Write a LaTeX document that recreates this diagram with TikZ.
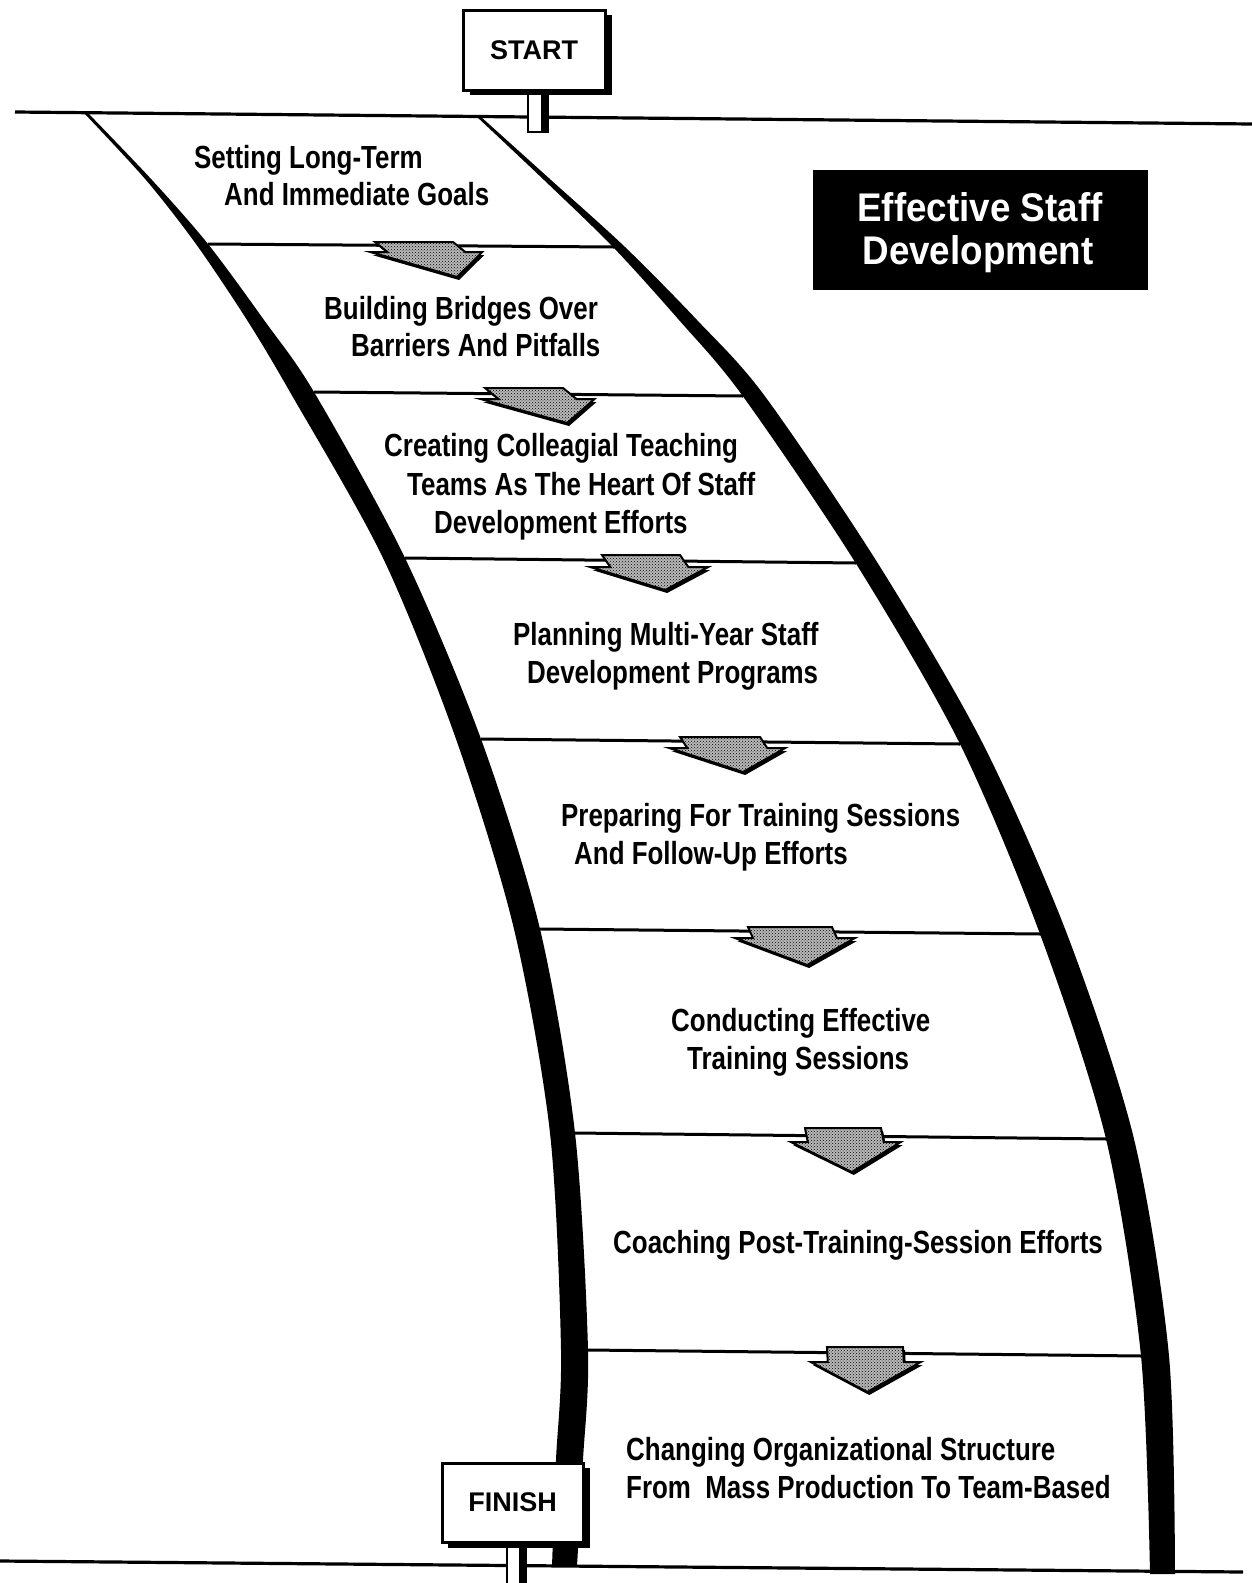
\documentclass[tikz,border=0pt]{standalone}
\usepackage{fontspec}
\setmainfont{Liberation Sans}
\newfontfamily\labfont{Liberation Sans}[FakeStretch=0.81]
\newfontfamily\titfont{Liberation Sans}[FakeStretch=0.92]
\usetikzlibrary{patterns}
% #1 cx, #2 top y, #3 shaft half width, #4 wing half width, #5 shaft height, #6 total height, #7 skew
\newcommand\stagearrow[7]{%
  \fill[black, shift={(2,3)}] ({#1-#3},#2) -- ({#1+#3},#2) -- ({#1+#3+#7*#5},{#2+#5}) -- ({#1+#4+#7*#5},{#2+#5}) -- ({#1+#7*#6},{#2+#6}) -- ({#1-#4+#7*#5},{#2+#5}) -- ({#1-#3+#7*#5},{#2+#5}) -- cycle;
  \draw[arrowbody] ({#1-#3},#2) -- ({#1+#3},#2) -- ({#1+#3+#7*#5},{#2+#5}) -- ({#1+#4+#7*#5},{#2+#5}) -- ({#1+#7*#6},{#2+#6}) -- ({#1-#4+#7*#5},{#2+#5}) -- ({#1-#3+#7*#5},{#2+#5}) -- cycle;
}
\begin{document}
\begin{tikzpicture}[x=1pt,y=-1pt,
  steplabel/.style={anchor=base west, inner sep=0pt, font=\labfont\bfseries\fontsize{32}{38}\selectfont},
  titletext/.style={anchor=base, inner sep=0pt, text=white, font=\titfont\bfseries\fontsize{40}{43}\selectfont},
  signbox/.style={draw, line width=3pt, fill=white, inner sep=0pt, font=\bfseries\fontsize{27}{30}\selectfont},
  crossline/.style={line width=3pt},
  edgeline/.style={line width=3.2pt},
  arrowbody/.style={line width=2pt, line join=miter, fill=gray!55, postaction={pattern=crosshatch dots}},
  postbody/.style={draw, line width=2.5pt, fill=white}
]
\useasboundingbox (0,0) rectangle (1252,1583);
\fill[white] (0,0) rectangle (1252,1583);

% horizon and ground lines
\coordinate (topL) at (15,112);
\coordinate (topR) at (1252,124);
\coordinate (botL) at (0,1561);
\coordinate (botR) at (1243,1572);
\draw[edgeline] (topL) -- (topR);
\draw[edgeline] (botL) -- (botR);

% left edge of the road
\fill plot[smooth] coordinates {(84,113) (146,180) (196,244) (247,320) (290,392) (383,558) (456,739) (514,929) (550,1133) (561,1350) (556,1460) (552,1566)}
  -- plot[smooth] coordinates {(577,1566) (583,1460) (588,1350) (575,1133) (540,929) (481,739) (405,558) (314,392) (264,320) (208,244) (152,180) (88,113)} -- cycle;
% right edge of the road
\fill plot[smooth] coordinates {(476,116) (544,180) (613,247) (679,320) (742,395) (855,562) (959,742) (1040,934) (1106,1139) (1141,1356) (1150,1574)}
  -- plot[smooth] coordinates {(1175,1574) (1169,1356) (1134,1139) (1067,934) (982,742) (877,562) (764,395) (697,320) (625,247) (551,180) (480,116)} -- cycle;

% cross lines
\coordinate (l1a) at (208,244);  \coordinate (l1b) at (614,247);
\coordinate (l2a) at (314,392);  \coordinate (l2b) at (743,396);
\coordinate (l3a) at (405,558);  \coordinate (l3b) at (856,563);
\coordinate (l4a) at (481,739);  \coordinate (l4b) at (960,744);
\coordinate (l5a) at (540,929);  \coordinate (l5b) at (1041,934);
\coordinate (l6a) at (575,1133); \coordinate (l6b) at (1107,1139);
\coordinate (l7a) at (588,1350); \coordinate (l7b) at (1142,1356);
\foreach \i in {1,...,7} \draw[crossline] (l\i a) -- (l\i b);

% arrows
\stagearrow{414}{242}{39}{56}{10}{35}{1.23}
\stagearrow{524}{388}{39}{57}{11}{35}{1.23}
\stagearrow{641}{555}{39}{59}{12}{35}{0.69}
\stagearrow{720}{737}{40}{58}{11}{35}{0.66}
\stagearrow{790}{927}{42}{60}{11}{38}{0.45}
\stagearrow{843}{1128}{38}{55}{14}{44}{0.2}
\stagearrow{865}{1347}{38}{55}{15}{45}{0.05}

% step texts
\node[steplabel] (s1a) at (194,168) {Setting Long-Term};
\node[steplabel] (s1b) at (224,205.5) {And Immediate Goals};
\node[steplabel] (s2a) at (324,319.5) {Building Bridges Over};
\node[steplabel] (s2b) at (351,356.5) {Barriers And Pitfalls};
\node[steplabel] (s3a) at (384,456.5) {Creating Colleagial Teaching};
\node[steplabel] (s3b) at (407,495.5) {Teams As The Heart Of Staff};
\node[steplabel] (s3c) at (434,533.5) {Development Efforts};
\node[steplabel] (s4a) at (513,645.5) {Planning Multi-Year Staff};
\node[steplabel] (s4b) at (527,683.5) {Development Programs};
\node[steplabel] (s5a) at (561,826.5) {Preparing For Training Sessions};
\node[steplabel] (s5b) at (574,864.5) {And Follow-Up Efforts};
\node[steplabel] (s6a) at (671,1031.5) {Conducting Effective};
\node[steplabel] (s6b) at (687,1069.5) {Training Sessions};
\node[steplabel] (s7)  at (613,1253.5) {Coaching Post-Training-Session Efforts};
\node[steplabel] (s8a) at (626,1460.5) {Changing Organizational Structure};
\node[steplabel] (s8b) at (626,1498.5) {From\ \ Mass Production To Team-Based};

% title
\node[fill=black, minimum width=335pt, minimum height=120pt, inner sep=0pt] (title) at (980.5,230) {};
\node[titletext] (title1) at (980,221) {Effective Staff};
\node[titletext] (title2) at (978,264) {Development};

% START sign
\fill (528,92) rectangle (549,133);
\draw[line width=2.5pt, fill=white] (528,90) rectangle (542,132);
\fill (470,15) rectangle (612,95);
\node[signbox, minimum width=142pt, minimum height=80pt] (start) at (534,50) {START};

% FINISH sign
\fill (507,1545) rectangle (527,1583);
\draw[line width=2.5pt, fill=white] (507,1543) rectangle (520,1590);
\fill (448,1468) rectangle (590,1548);
\node[signbox, minimum width=141pt, minimum height=79pt] (finish) at (512.5,1502.5) {FINISH};
\end{tikzpicture}
\end{document}
